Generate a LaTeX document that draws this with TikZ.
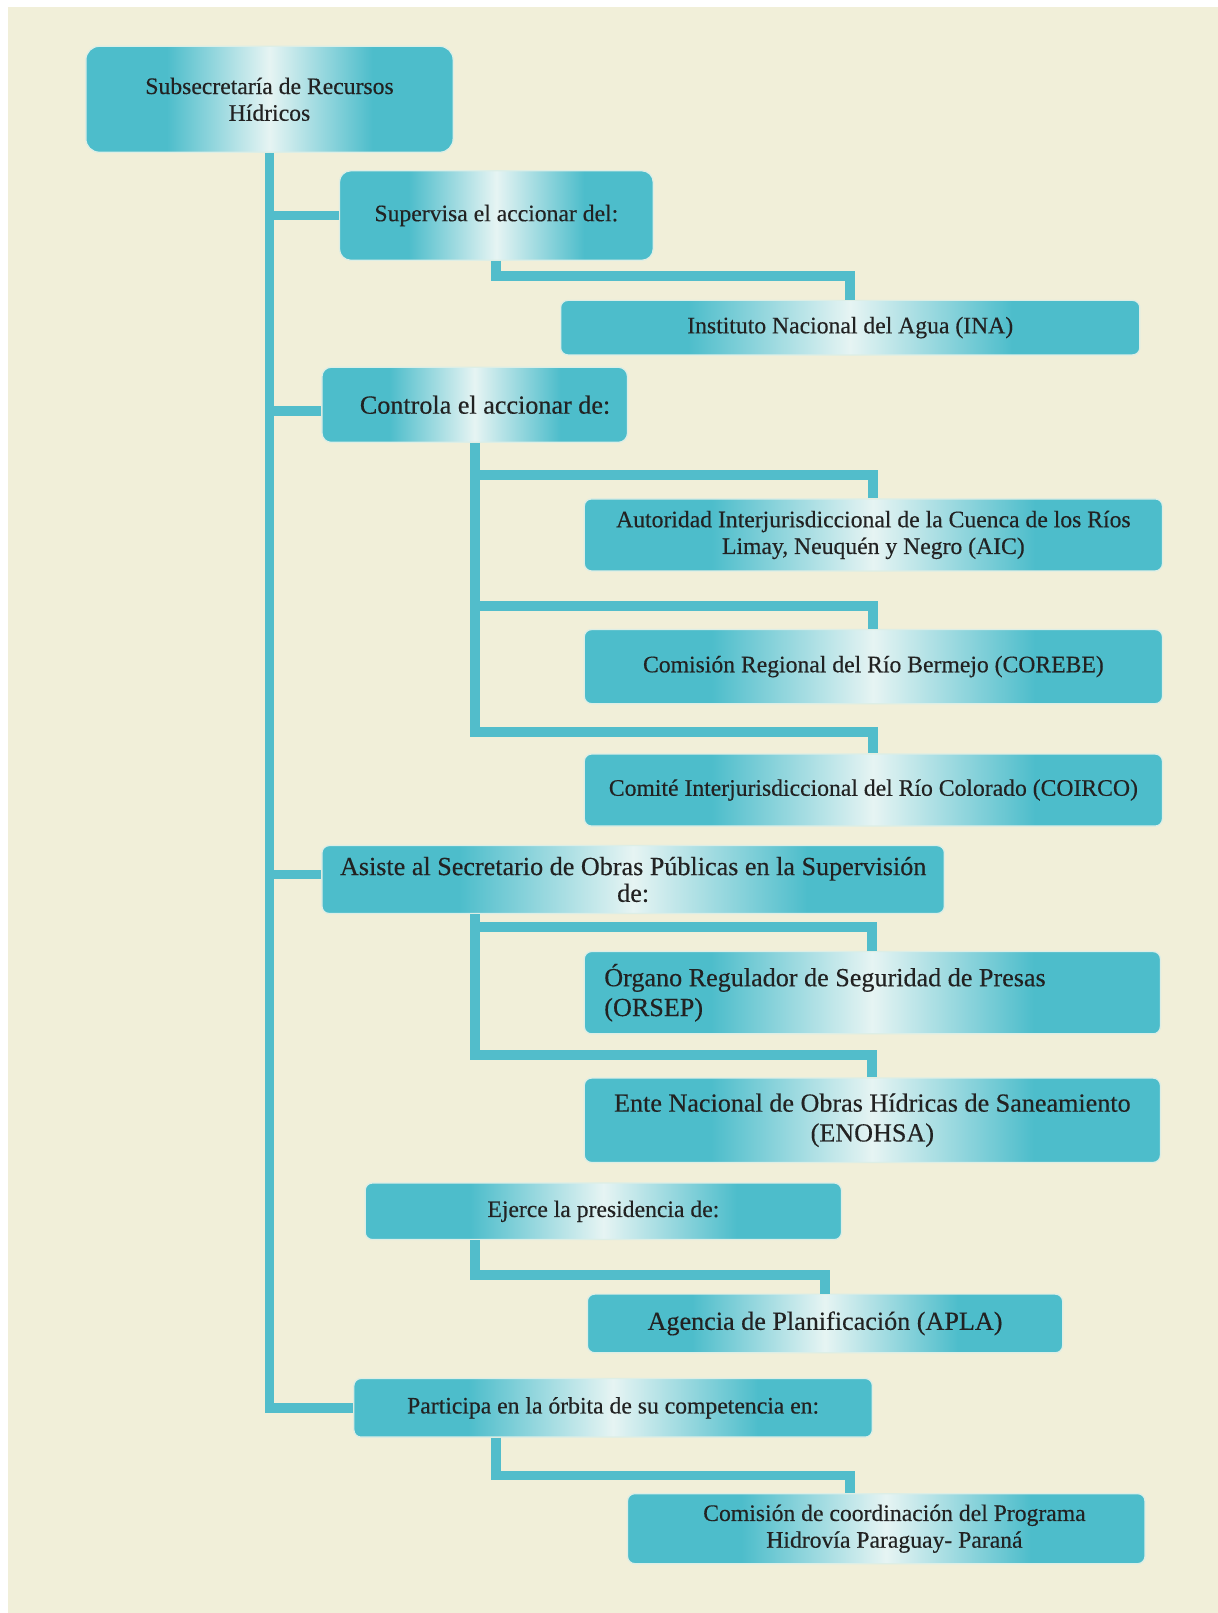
\documentclass[tikz,border=0pt]{standalone}
\usepackage{fontspec}
\setmainfont{Liberation Serif}[FakeBold=0.35]
\definecolor{bgc}{HTML}{F1EFD9}
\definecolor{tl}{HTML}{4DBDCB}
\definecolor{hl}{HTML}{E6F4F3}
\definecolor{lin}{HTML}{52BDCB}
\definecolor{rim}{HTML}{DDEEE6}
\definecolor{txt}{HTML}{222222}
\pgfdeclarehorizontalshading{boxshade}{100bp}{color(0bp)=(tl); color(36bp)=(tl); color(50bp)=(hl); color(64bp)=(tl); color(100bp)=(tl)}
\tikzset{
  box/.style={rectangle, rounded corners=7pt, shading=boxshade, draw=rim, line width=1.2pt,
    inner sep=0pt, align=center, text=txt, font=\fontsize{23}{26}\selectfont},
  bigtext/.style={font=\fontsize{25.4}{29}\selectfont},
  conn/.style={draw=lin, line width=9.5pt, line join=miter}
}
\begin{document}
\begin{tikzpicture}[x=1pt,y=-1pt]
\useasboundingbox (0,0) rectangle (1184,1568);
\fill[bgc] (7.8,6.8) rectangle (1184,1568);

\node[box, rounded corners=13pt, minimum width=357pt, minimum height=103pt] (b1) at (262,96.5) {Subsecretaría de Recursos\\Hídricos};
\node[box, rounded corners=11pt, minimum width=305pt, minimum height=87pt] (b2) at (482.5,209.5) {Supervisa el accionar del:};
\node[box, minimum width=563pt, minimum height=53pt] (ina) at (826.5,318.5) {Instituto Nacional del Agua (INA)};
\node[box, bigtext, rounded corners=9pt, minimum width=297pt, minimum height=73pt] (ctrl) at (461.5,393.5) {\hspace*{20pt}Controla el accionar de:};
\node[box, minimum width=562pt, minimum height=70pt] (aic) at (849,520) {Autoridad Interjurisdiccional de la Cuenca de los Ríos\\Limay, Neuquén y Negro (AIC)};
\node[box, minimum width=562pt, minimum height=72pt] (cor) at (849,648) {Comisión Regional del Río Bermejo (COREBE)};
\node[box, minimum width=562pt, minimum height=70pt] (coi) at (849,768) {Comité Interjurisdiccional del Río Colorado (COIRCO)};
\node[box, font=\fontsize{25.4}{26}\selectfont, minimum width=605pt, minimum height=66pt] (as) at (615.5,855) {Asiste al Secretario de Obras Públicas en la Supervisión\\de:};
\node[box, bigtext, minimum width=560pt, minimum height=80pt, align=left] (ors) at (848,965) {Órgano Regulador de Seguridad de Presas\hspace*{92pt}\\(ORSEP)};
\node[box, bigtext, minimum width=560pt, minimum height=82pt] (eno) at (848,1089) {Ente Nacional de Obras Hídricas de Saneamiento\\(ENOHSA)};
\node[box, minimum width=463pt, minimum height=55pt] (ej) at (586.5,1177.5) {Ejerce la presidencia de:};
\node[box, bigtext, minimum width=462pt, minimum height=57pt] (apla) at (802,1286.5) {Agencia de Planificación (APLA)};
\node[box, minimum width=504pt, minimum height=57pt] (part) at (596,1368.5) {Participa en la órbita de su competencia en:};
\node[box, minimum width=503pt, minimum height=68pt] (com) at (861.5,1486) {\hspace*{16pt}Comisión de coordinación del Programa\\\hspace*{16pt}Hidrovía Paraguay- Paraná};

% helper points
\coordinate (cw) at ([yshift=-6pt]ctrl.west);
\coordinate (aw) at ([yshift=5pt]as.west);
\coordinate (ax) at (as.south -| ctrl.south);
\coordinate (ex) at (ej.south -| ctrl.south);
\coordinate (px) at (part.south -| b2.south);
\coordinate (cx) at (com.north -| ina.north);

% trunk
\draw[conn] (b1.south) |- (part.west);
\draw[conn] (b1.south |- b2.west) -- (b2.west);
\draw[conn] (b1.south |- cw) -- (cw);
\draw[conn] (b1.south |- aw) -- (aw);

% Supervisa
\draw[conn] (b2.south) -- ++(0,15) -| (ina.north);
% Controla
\draw[conn] (ctrl.south) |- ([yshift=21pt]coi.north) -- (coi.north);
\draw[conn] (ctrl.south |- aic.north) ++(0,-23) -| (aic.north);
\draw[conn] (ctrl.south |- cor.north) ++(0,-22) -| (cor.north);
% Asiste
\draw[conn] (ax) |- ([yshift=22pt]eno.north) -- (eno.north);
\draw[conn] (ax |- ors.north) ++(0,-23) -| (ors.north);
% Ejerce
\draw[conn] (ex) |- ([yshift=18pt]apla.north) -- (apla.north);
% Participa
\draw[conn] (px) |- ([yshift=17pt]cx) -- (cx);
\end{tikzpicture}
\end{document}
